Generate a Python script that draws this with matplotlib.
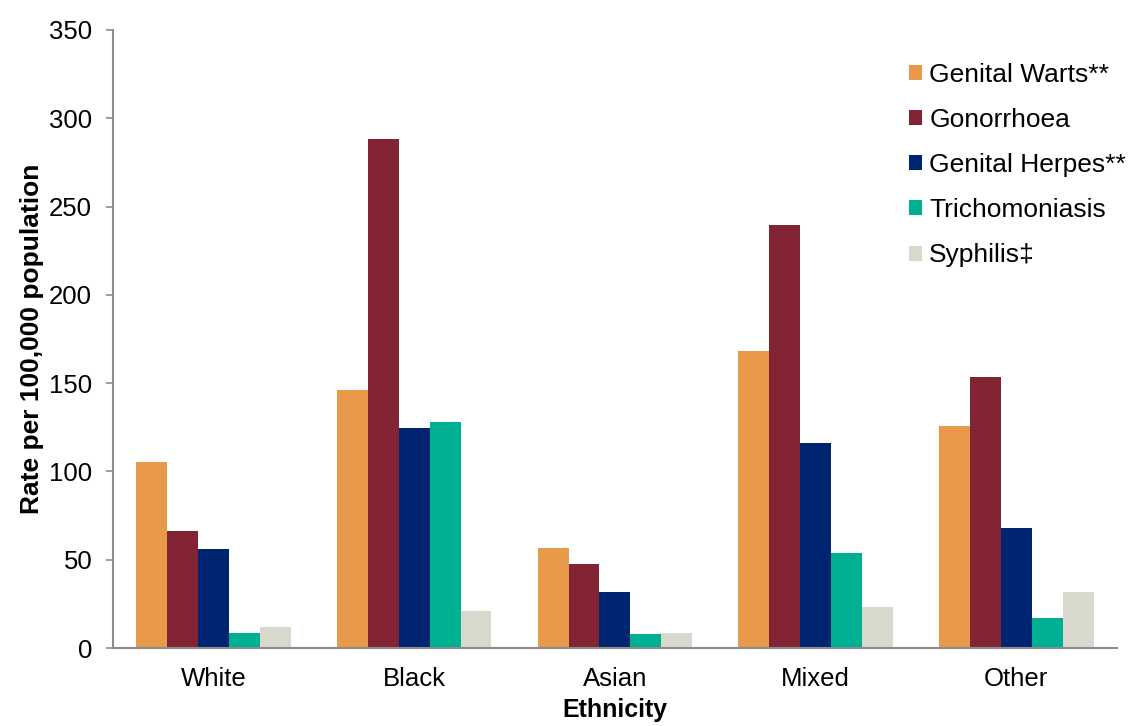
import numpy as np
import matplotlib.pyplot as plt

plt.rcParams['font.family'] = ['Liberation Sans', 'DejaVu Sans']

# ------------------- Data -------------------
ethnicities = ['White', 'Black', 'Asian', 'Mixed', 'Other']
series_names = ['Genital Warts**', 'Gonorrhoea', 'Genital Herpes**',
                'Trichomoniasis', 'Syphilis‡']
genital_warts = [105.5, 146, 56.5, 168, 126]
gonorrhoea = [66.5, 288.5, 47.5, 239.5, 153.5]
genital_herpes = [56, 124.5, 31.5, 116, 68]
trichomoniasis = [8.5, 128, 8, 54, 17]
syphilis = [12, 21, 8.5, 23.5, 31.5]
colors = ['#E8994A', '#822433', '#002570', '#00B092', '#D9D8CC']

values = [genital_warts, gonorrhoea, genital_herpes, trichomoniasis, syphilis]

# ------------------- Chart -------------------
fig = plt.figure(figsize=(11.28, 7.26), dpi=100)
ax = fig.add_axes([0.1002, 0.1074, 0.8898, 0.8513])

x = np.arange(len(ethnicities))
bar_w = 0.154
for i, (name, vals, c) in enumerate(zip(series_names, values, colors)):
    offset = (i - 2) * bar_w
    ax.bar(x + offset, vals, width=bar_w, color=c, label=name, linewidth=0)

ax.set_xlim(-0.5, 4.5)
ax.set_ylim(0, 350)
ax.set_yticks(range(0, 351, 50))
ax.set_xticks(x)
ax.set_xticklabels(ethnicities)

for side in ['top', 'right']:
    ax.spines[side].set_visible(False)
for side in ['left', 'bottom']:
    ax.spines[side].set_color('#8C8C8C')
    ax.spines[side].set_linewidth(1.5)

ax.tick_params(axis='y', length=5, width=1.2, color='#8C8C8C', labelsize=18.5, pad=10)
ax.tick_params(axis='x', length=0, labelsize=18.5, pad=14)

ax.set_ylabel('Rate per 100,000 population', fontsize=19, fontweight='bold', labelpad=4)
ax.set_xlabel('Ethnicity', fontsize=18, fontweight='bold', labelpad=5)

# legend sits in the top-right corner, no frame, small square swatches
leg = ax.legend(loc='upper right', bbox_to_anchor=(1.033, 0.985), frameon=False,
                fontsize=19, handlelength=0.5, handleheight=0.5,
                handletextpad=0.27, labelspacing=0.8)

fig.savefig('out.png', dpi=100)
